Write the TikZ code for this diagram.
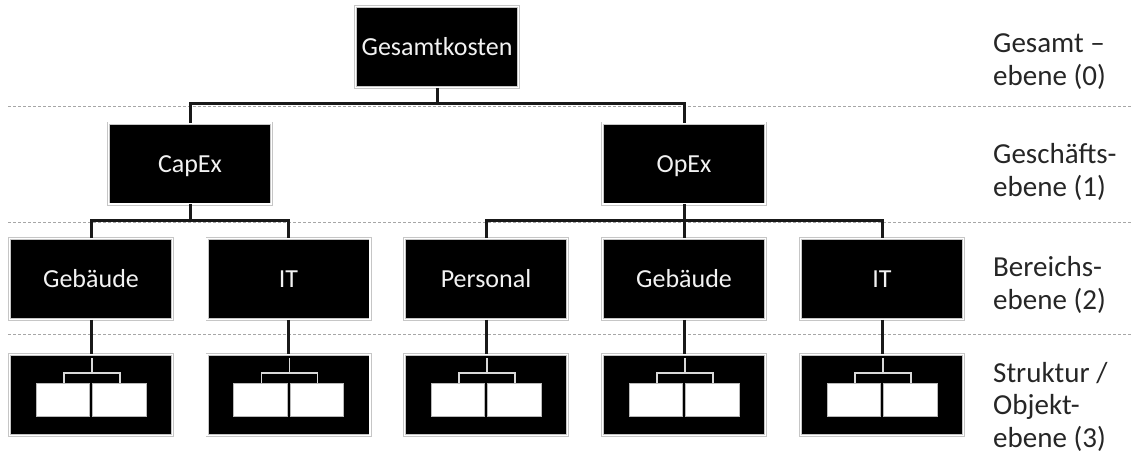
\documentclass[tikz,border=0pt]{standalone}
\usepackage{fontspec}
\setmainfont{Carlito}
\begin{document}
\begin{tikzpicture}[x=1pt,y=-1pt,
  box/.style={rectangle, fill=black, draw=gray!45, double=white,
    double distance=1.6pt, line width=0.7pt,
    minimum width=163pt, minimum height=81pt, inner sep=0pt,
    text=white!95!black, font=\fontsize{26}{32}\selectfont,
    text height=17pt, text depth=0pt},
  conn/.style={draw=black!90, line width=3pt},
  level/.style={draw=gray!70, line width=1pt, dash pattern=on 3pt off 2pt},
  lvltext/.style={anchor=base west, align=left, inner sep=0pt,
    text=black!85, font=\fontsize{29}{32.5}\selectfont},
  mini/.style={draw=gray!30, line width=1.5pt},
  minibox/.style={fill=white, draw=gray!55, line width=0.8pt}]
\useasboundingbox (0,0) rectangle (1131,459);

% level separators
\draw[level] (8,106) -- (1131,106);
\draw[level] (8,222) -- (1131,222);
\draw[level] (8,334) -- (1131,334);

% boxes
\node[box] (g) at (437,47) {Gesamtkosten};
\node[box] (capex) at (190,163.5) {CapEx};
\node[box] (opex) at (684,163.5) {OpEx};
\node[box] (a1) at (91,279) {Gebäude};
\node[box] (a2) at (288.5,279) {IT};
\node[box] (a3) at (486,279) {Personal};
\node[box] (a4) at (684,279) {Gebäude};
\node[box] (a5) at (882,279) {IT};
\foreach \i/\x in {1/91,2/288.5,3/486,4/684,5/882}{
  \node[box] (o\i) at (\x,395) {};
}

% connectors
\path (capex.north) ++(0,-19) coordinate (b0);
\path (a1.north) ++(0,-17.5) coordinate (b1);
\draw[conn] (g.south) -- (g.south |- b0);
\draw[conn] (capex.north) -- (b0) -| (opex.north);
\draw[conn] (capex.south) -- (capex.south |- b1);
\draw[conn] (a1.north) -- (b1) -| (a2.north);
\draw[conn] (opex.south) -- (a4.north);
\draw[conn] (a3.north) -- (a3.north |- b1) -| (a5.north);
\foreach \i in {1,...,5}{
  \draw[conn] (a\i.south) -- (o\i.north);
}

% small structure symbol inside each object box
\foreach \i in {1,...,5}{
  \begin{scope}[shift={(o\i.center)}]
    \draw[mini] (1,-37) -- (1,-22);
    \draw[mini] (-27,-12) -- (-27,-22) -- (29,-22) -- (29,-12);
    \draw[minibox] (-55,-12) rectangle (-1.5,21);
    \draw[minibox] (1.5,-12) rectangle (55,21);
  \end{scope}
}

% level labels (anchored at the baseline of the last line)
\node[lvltext] (l0) at (993,85) {Gesamt –\\ebene (0)};
\node[lvltext] (l1) at (993,196) {Geschäfts-\\ebene (1)};
\node[lvltext] (l2) at (993,309) {Bereichs-\\ebene (2)};
\node[lvltext] (l3) at (993,447) {Struktur /\\Objekt-\\ebene (3)};
\end{tikzpicture}
\end{document}
